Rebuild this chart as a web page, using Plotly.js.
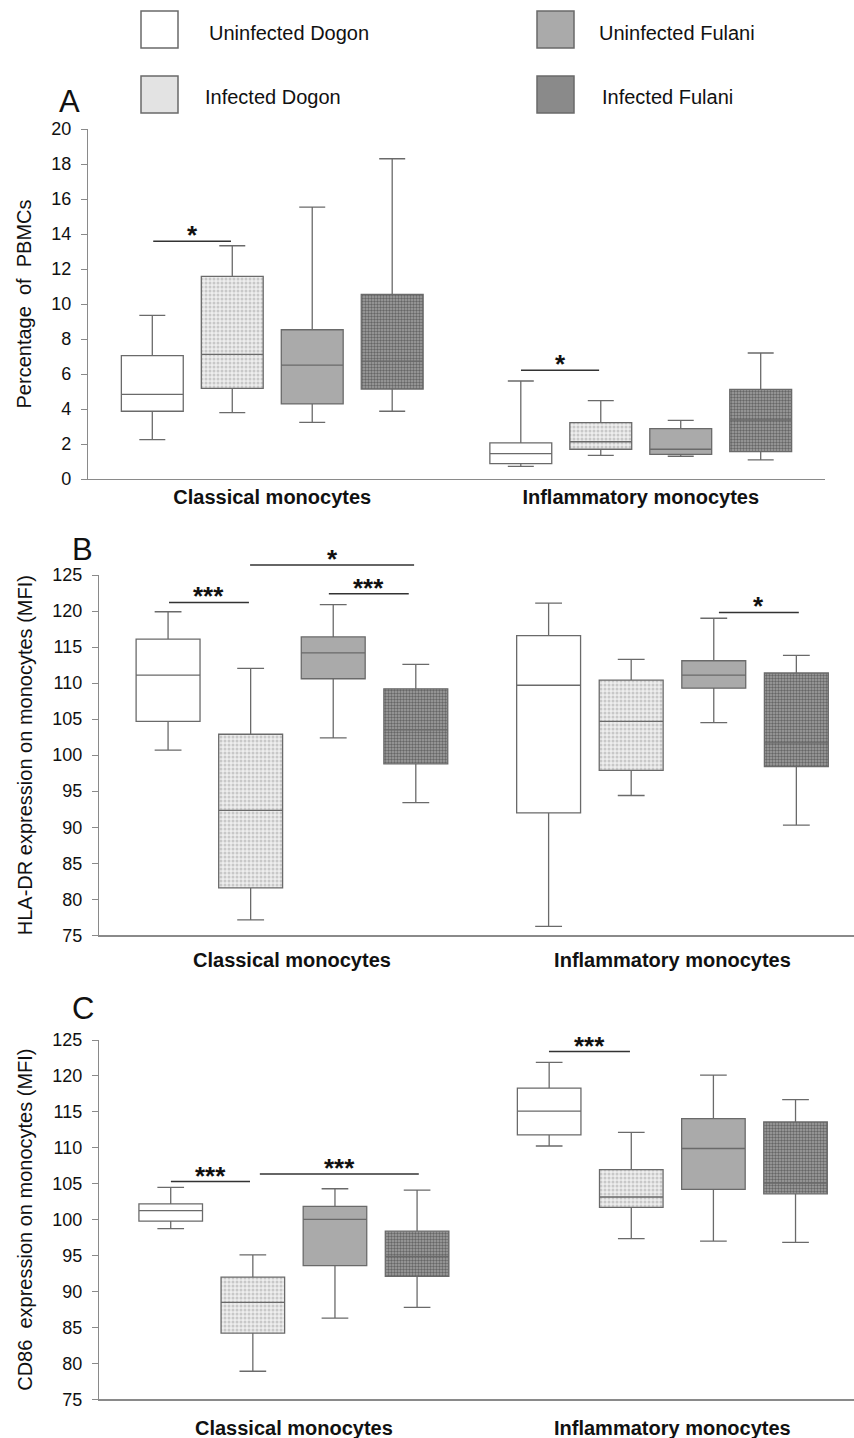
<!DOCTYPE html>
<html>
<head>
<meta charset="utf-8">
<script src="https://cdn.plot.ly/plotly-3.0.1.min.js"></script>
<style>html,body{margin:0;padding:0;background:#fff;}#chart{width:854px;height:1438px;}</style>
</head>
<body>
<div id="chart"></div>
<script>
// ---------------- DATA ----------------
const categories = ['Classical monocytes', 'Inflammatory monocytes'];
const seriesNames = ['Uninfected Dogon', 'Infected Dogon', 'Uninfected Fulani', 'Infected Fulani'];

// Panel A: Percentage of PBMCs  (rows = series, cols = categories)
const aLow = [[2.25, 0.72], [3.79, 1.35], [3.24, 1.30], [3.87, 1.09]];
const aQ1  = [[3.87, 0.88], [5.18, 1.70], [4.29, 1.41], [5.14, 1.56]];
const aMed = [[4.84, 1.45], [7.12, 2.13], [6.51, 1.70], [6.74, 3.37]];
const aQ3  = [[7.05, 2.06], [11.58, 3.22], [8.53, 2.88], [10.55, 5.12]];
const aUp  = [[9.35, 5.60], [13.33, 4.48], [15.54, 3.35], [18.30, 7.20]];

// Panel B: HLA-DR expression (MFI)
const bLow = [[100.7, 76.25], [77.13, 94.4], [102.4, 104.5], [93.4, 90.3]];
const bQ1  = [[104.7, 92.0], [81.57, 97.9], [110.6, 109.3], [98.8, 98.4]];
const bMed = [[111.1, 109.7], [92.35, 104.7], [114.2, 111.1], [103.5, 101.7]];
const bQ3  = [[116.1, 116.6], [102.9, 110.4], [116.4, 113.1], [109.2, 111.4]];
const bUp  = [[119.9, 121.1], [112.05, 113.3], [120.9, 119.0], [112.6, 113.85]];

// Panel C: CD86 expression (MFI)
const cLow = [[98.75, 110.25], [78.9, 97.35], [86.3, 97.0], [87.8, 96.85]];
const cQ1  = [[99.8, 111.8], [84.2, 101.7], [93.6, 104.2], [92.1, 103.6]];
const cMed = [[101.25, 115.1], [88.5, 103.15], [100.05, 109.9], [94.9, 105.1]];
const cQ3  = [[102.2, 118.3], [92.0, 106.95], [101.85, 114.05], [98.4, 113.6]];
const cUp  = [[104.5, 121.9], [95.1, 112.15], [104.3, 120.1], [104.1, 116.7]];

// Significance brackets (category-unit positions)
const sigPanel = ['A', 'A', 'B', 'B', 'B', 'B', 'C', 'C', 'C'];
const sigX0    = [-0.323, 0.675, -0.323, -0.110, 0.097, 1.122, -0.325, -0.090, 0.674];
const sigX1    = [-0.112, 0.887, -0.113, 0.321, 0.307, 1.332, -0.116, 0.330, 0.888];
const sigY     = [13.58, 6.21, 121.2, 126.4, 122.4, 119.8, 105.3, 106.35, 123.4];
const sigLabel = ['*', '*', '***', '*', '***', '*', '***', '***', '***'];

// ---------------- STYLE ----------------
const FONT = 'Liberation Sans, Arial, Helvetica, sans-serif';
const fillColors = ['#ffffff', '#e9e9e9', '#aaaaaa', '#939393'];
const patterns = [null,
  {shape: '.', size: 4, solidity: 0.45, fgcolor: '#c8c8c8', bgcolor: '#eeeeee', fillmode: 'replace'},
  null,
  {shape: '.', size: 3, solidity: 0.5, fgcolor: '#666666', bgcolor: '#a2a2a2', fillmode: 'replace'}];
const boxLine = '#6a6a6a';
const axisColor = '#8a8a8a';

const W = 854, H = 1438;
const panels = {
  A: {low: aLow, q1: aQ1, med: aMed, q3: aQ3, up: aUp, x: 'x', y: 'y', dom: [479, 129], range: [0, 20]},
  B: {low: bLow, q1: bQ1, med: bMed, q3: bQ3, up: bUp, x: 'x2', y: 'y2', dom: [935.3, 575], range: [75, 125]},
  C: {low: cLow, q1: cQ1, med: cMed, q3: cQ3, up: cUp, x: 'x3', y: 'y3', dom: [1399.3, 1040], range: [75, 125]}
};

const data = [];
// pattern/fill layer (bars spanning the interquartile range)
Object.keys(panels).forEach(k => {
  const p = panels[k];
  seriesNames.forEach((name, i) => {
    const marker = {color: fillColors[i], line: {width: 0}};
    if (patterns[i]) marker.pattern = patterns[i];
    data.push({
      type: 'bar', name: name, x: categories,
      base: p.q1[i], y: p.q3[i].map((v, j) => v - p.q1[i][j]),
      alignmentgroup: 'bar' + k, offsetgroup: 's' + i,
      xaxis: p.x, yaxis: p.y, marker: marker, hoverinfo: 'skip', showlegend: false
    });
  });
});
// box outlines, medians and whiskers
Object.keys(panels).forEach(k => {
  const p = panels[k];
  seriesNames.forEach((name, i) => {
    data.push({
      type: 'box', name: name, x: categories,
      q1: p.q1[i], median: p.med[i], q3: p.q3[i],
      lowerfence: p.low[i], upperfence: p.up[i],
      alignmentgroup: 'box' + k, offsetgroup: 's' + i,
      xaxis: p.x, yaxis: p.y, boxpoints: false,
      fillcolor: 'rgba(0,0,0,0)', line: {color: boxLine, width: 1.3},
      whiskerwidth: 0.42, showlegend: false
    });
  });
});

function pyPaper(px) { return 1 - px / H; }

const shapes = [];
const annotations = [];

// significance brackets
sigPanel.forEach((pk, i) => {
  const p = panels[pk];
  const inRange = sigY[i] <= p.range[1];
  let yref = p.y, yv = sigY[i];
  if (!inRange) {
    const frac = (sigY[i] - p.range[0]) / (p.range[1] - p.range[0]);
    yref = 'paper';
    yv = pyPaper(p.dom[0]) + frac * (pyPaper(p.dom[1]) - pyPaper(p.dom[0]));
  }
  shapes.push({type: 'line', xref: p.x, yref: yref, x0: sigX0[i], x1: sigX1[i], y0: yv, y1: yv,
    line: {color: '#333333', width: 1.5}});
  annotations.push({xref: p.x, yref: yref, x: (sigX0[i] + sigX1[i]) / 2, y: yv,
    text: sigLabel[i], showarrow: false, yanchor: 'bottom', yshift: -11,
    font: {family: FONT, size: 26, color: '#111', weight: 'bold'}});
});

// legend (drawn as boxes + labels)
const legX = [141, 141, 537, 537];
const legY = [11, 76, 11, 76];
const legTextX = [207, 203, 597, 600];
const legTextY = [33, 97, 33, 97];
const legFill = ['#ffffff', '#e3e3e3', '#aaaaaa', '#8a8a8a'];
seriesNames.forEach((name, i) => {
  shapes.push({type: 'rect', xref: 'paper', yref: 'paper',
    x0: legX[i] / W, x1: (legX[i] + 37) / W, y0: pyPaper(legY[i] + 37), y1: pyPaper(legY[i]),
    fillcolor: legFill[i], line: {color: '#6a6a6a', width: 1.5}});
  annotations.push({xref: 'paper', yref: 'paper', x: legTextX[i] / W, y: pyPaper(legTextY[i]),
    xanchor: 'left', yanchor: 'middle', text: name, showarrow: false,
    font: {family: FONT, size: 20, color: '#111'}});
});

// panel letters
[['A', 69, 102], ['B', 82, 549], ['C', 83, 1008]].forEach(l => {
  annotations.push({xref: 'paper', yref: 'paper', x: l[1] / W, y: pyPaper(l[2]),
    xanchor: 'center', yanchor: 'middle', text: l[0], showarrow: false,
    font: {family: FONT, size: 31, color: '#111'}});
});

function xAxis(dom0, range, anchor, standoff) {
  return {domain: [dom0 / W, range[2] / W], anchor: anchor, type: 'category',
    range: [range[0], range[1]], showline: true, linecolor: axisColor, linewidth: 1.2,
    ticks: '', showgrid: false, zeroline: false, ticklabelstandoff: standoff,
    tickfont: {family: FONT, size: 20, color: '#111', weight: 'bold'}, fixedrange: true};
}
function yAxis(p, anchor, dtick, title, standoff) {
  return {domain: [pyPaper(p.dom[0]), pyPaper(p.dom[1])], anchor: anchor,
    range: p.range, dtick: dtick, showline: true, linecolor: axisColor, linewidth: 1.2,
    ticks: 'outside', ticklen: 6, tickcolor: axisColor, showgrid: false, zeroline: false,
    ticklabelstandoff: 6,
    tickfont: {family: FONT, size: 18, color: '#111'},
    title: {text: title, standoff: standoff, font: {family: FONT, size: 20, color: '#111'}},
    automargin: false, fixedrange: true};
}

const layout = {
  width: W, height: H,
  margin: {l: 0, r: 0, t: 0, b: 0},
  paper_bgcolor: '#ffffff', plot_bgcolor: '#ffffff',
  showlegend: false,
  font: {family: FONT, color: '#111'},
  barmode: 'group', boxmode: 'group',
  bargap: 0.132, bargroupgap: 0.226, boxgap: 0.132, boxgroupgap: 0.226,
  xaxis: xAxis(88, [-0.5, 1.5, 825], 'y', 0),
  yaxis: yAxis(panels.A, 'x', 2, 'Percentage\u00a0 of\u00a0 PBMCs', 14),
  xaxis2: xAxis(99, [-0.507, 1.477, 854], 'y2', 6),
  yaxis2: yAxis(panels.B, 'x2', 5, 'HLA-DR expression on monocytes (MFI)', 14),
  xaxis3: xAxis(99, [-0.515, 1.48, 854], 'y3', 10),
  yaxis3: yAxis(panels.C, 'x3', 5, 'CD86\u00a0 expression on monocytes (MFI)', 14),
  shapes: shapes,
  annotations: annotations
};

Plotly.newPlot('chart', data, layout, {staticPlot: true, displayModeBar: false});
</script>
</body>
</html>
